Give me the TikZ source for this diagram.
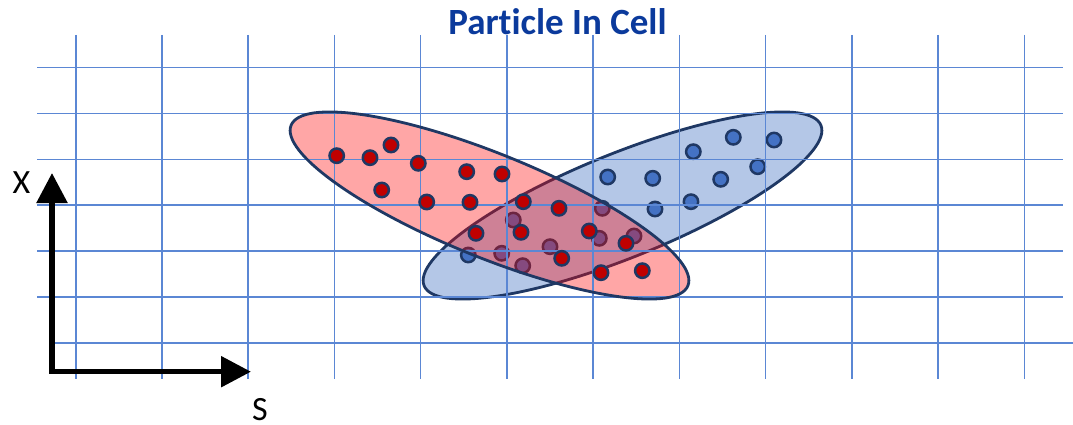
\documentclass[tikz,border=0pt]{standalone}
\usepackage{fontspec}
\setmainfont{Carlito}[Ligatures=NoCommon]
\usetikzlibrary{arrows.meta}
\definecolor{gridblue}{HTML}{5B87D4}
\definecolor{navy}{HTML}{1F3864}
\definecolor{pblue}{HTML}{4472C4}
\definecolor{pred}{HTML}{C00000}
\definecolor{ellblue}{HTML}{B4C7E7}
\definecolor{titleblue}{HTML}{0B3A9C}
\begin{document}
\begin{tikzpicture}[x=1pt,y=-1pt,
  gridline/.style={gridblue, line width=1.6pt},
  ellborder/.style={navy, line width=2.8pt},
  blueell/.style={ellborder, fill=ellblue},
  redfill/.style={fill=red, fill opacity=0.35},
  particle/.style={navy, line width=2.5pt},
  redp/.style={particle, fill=pred},
  bluep/.style={particle, fill=pblue},
  axis/.style={line width=5.5pt, {Triangle[length=30pt,width=30pt]}-{Triangle[length=30pt,width=30pt]}},
  lab/.style={font=\fontsize{34}{40}\selectfont, anchor=base, inner sep=0pt},
  titlestyle/.style={font=\bfseries\fontsize{37}{44}\selectfont, text=titleblue, anchor=base, inner sep=0pt}
]
\useasboundingbox (0,0) rectangle (1073,425);
% blue ellipse and its particles
\draw[blueell, shift={(622.5,205.5)}, rotate=22] (0,0) ellipse [x radius=214pt, y radius=52pt];
\foreach \p in {(607.7,177),(652.7,178.3),(693.3,151.7),(733.3,137.3),(774,140),(720.7,179.3),(757.7,166.7),(655,209),(691,201.7),(602.3,208.3),(513.3,220),(599.3,238.3),(634,236),(550,246.7),(501.7,253.3),(522.7,265.7),(468.3,255)}
  \draw[bluep] \p circle [radius=7.2pt];
% red ellipse fill (transparent)
\fill[redfill, shift={(489.5,205.5)}, rotate=-22] (0,0) ellipse [x radius=214pt, y radius=52pt];
% grid
\foreach \i in {0,...,11}
  \draw[gridline] ({75.7+86.24*\i},35) -- ({75.7+86.24*\i},379);
\foreach \y in {67.7,113.5,159.3,205.2,251,296.8}
  \draw[gridline] (37,\y) -- (1063,\y);
\draw[gridline] (54,342.7) -- (1073,342.7);
% red ellipse border
\draw[ellborder, shift={(489.5,205.5)}, rotate=-22] (0,0) ellipse [x radius=214pt, y radius=52pt];
% red particles
\foreach \p in {(336.7,155.7),(370,157.7),(391,145),(418.3,163.3),(381.7,190),(426.7,202),(466.7,171.7),(502,174),(470,202.3),(523.3,201.7),(559,208.3),(476,233.3),(521,232.3),(561.7,258.3),(589.3,231),(626,243.3),(601,272.7),(642.3,270.7)}
  \draw[redp] \p circle [radius=7.2pt];
% axes
\coordinate (xtip) at (52,173);
\coordinate (stip) at (251,371.7);
\draw[axis] (xtip) |- (stip);
\node[lab] (xlab) at (21.5,193.5) {X};
\node[lab] (slab) at (260,420) {S};
% title
\node[titlestyle] (title) at (557.5,34.5) {Particle In Cell};
\end{tikzpicture}
\end{document}
